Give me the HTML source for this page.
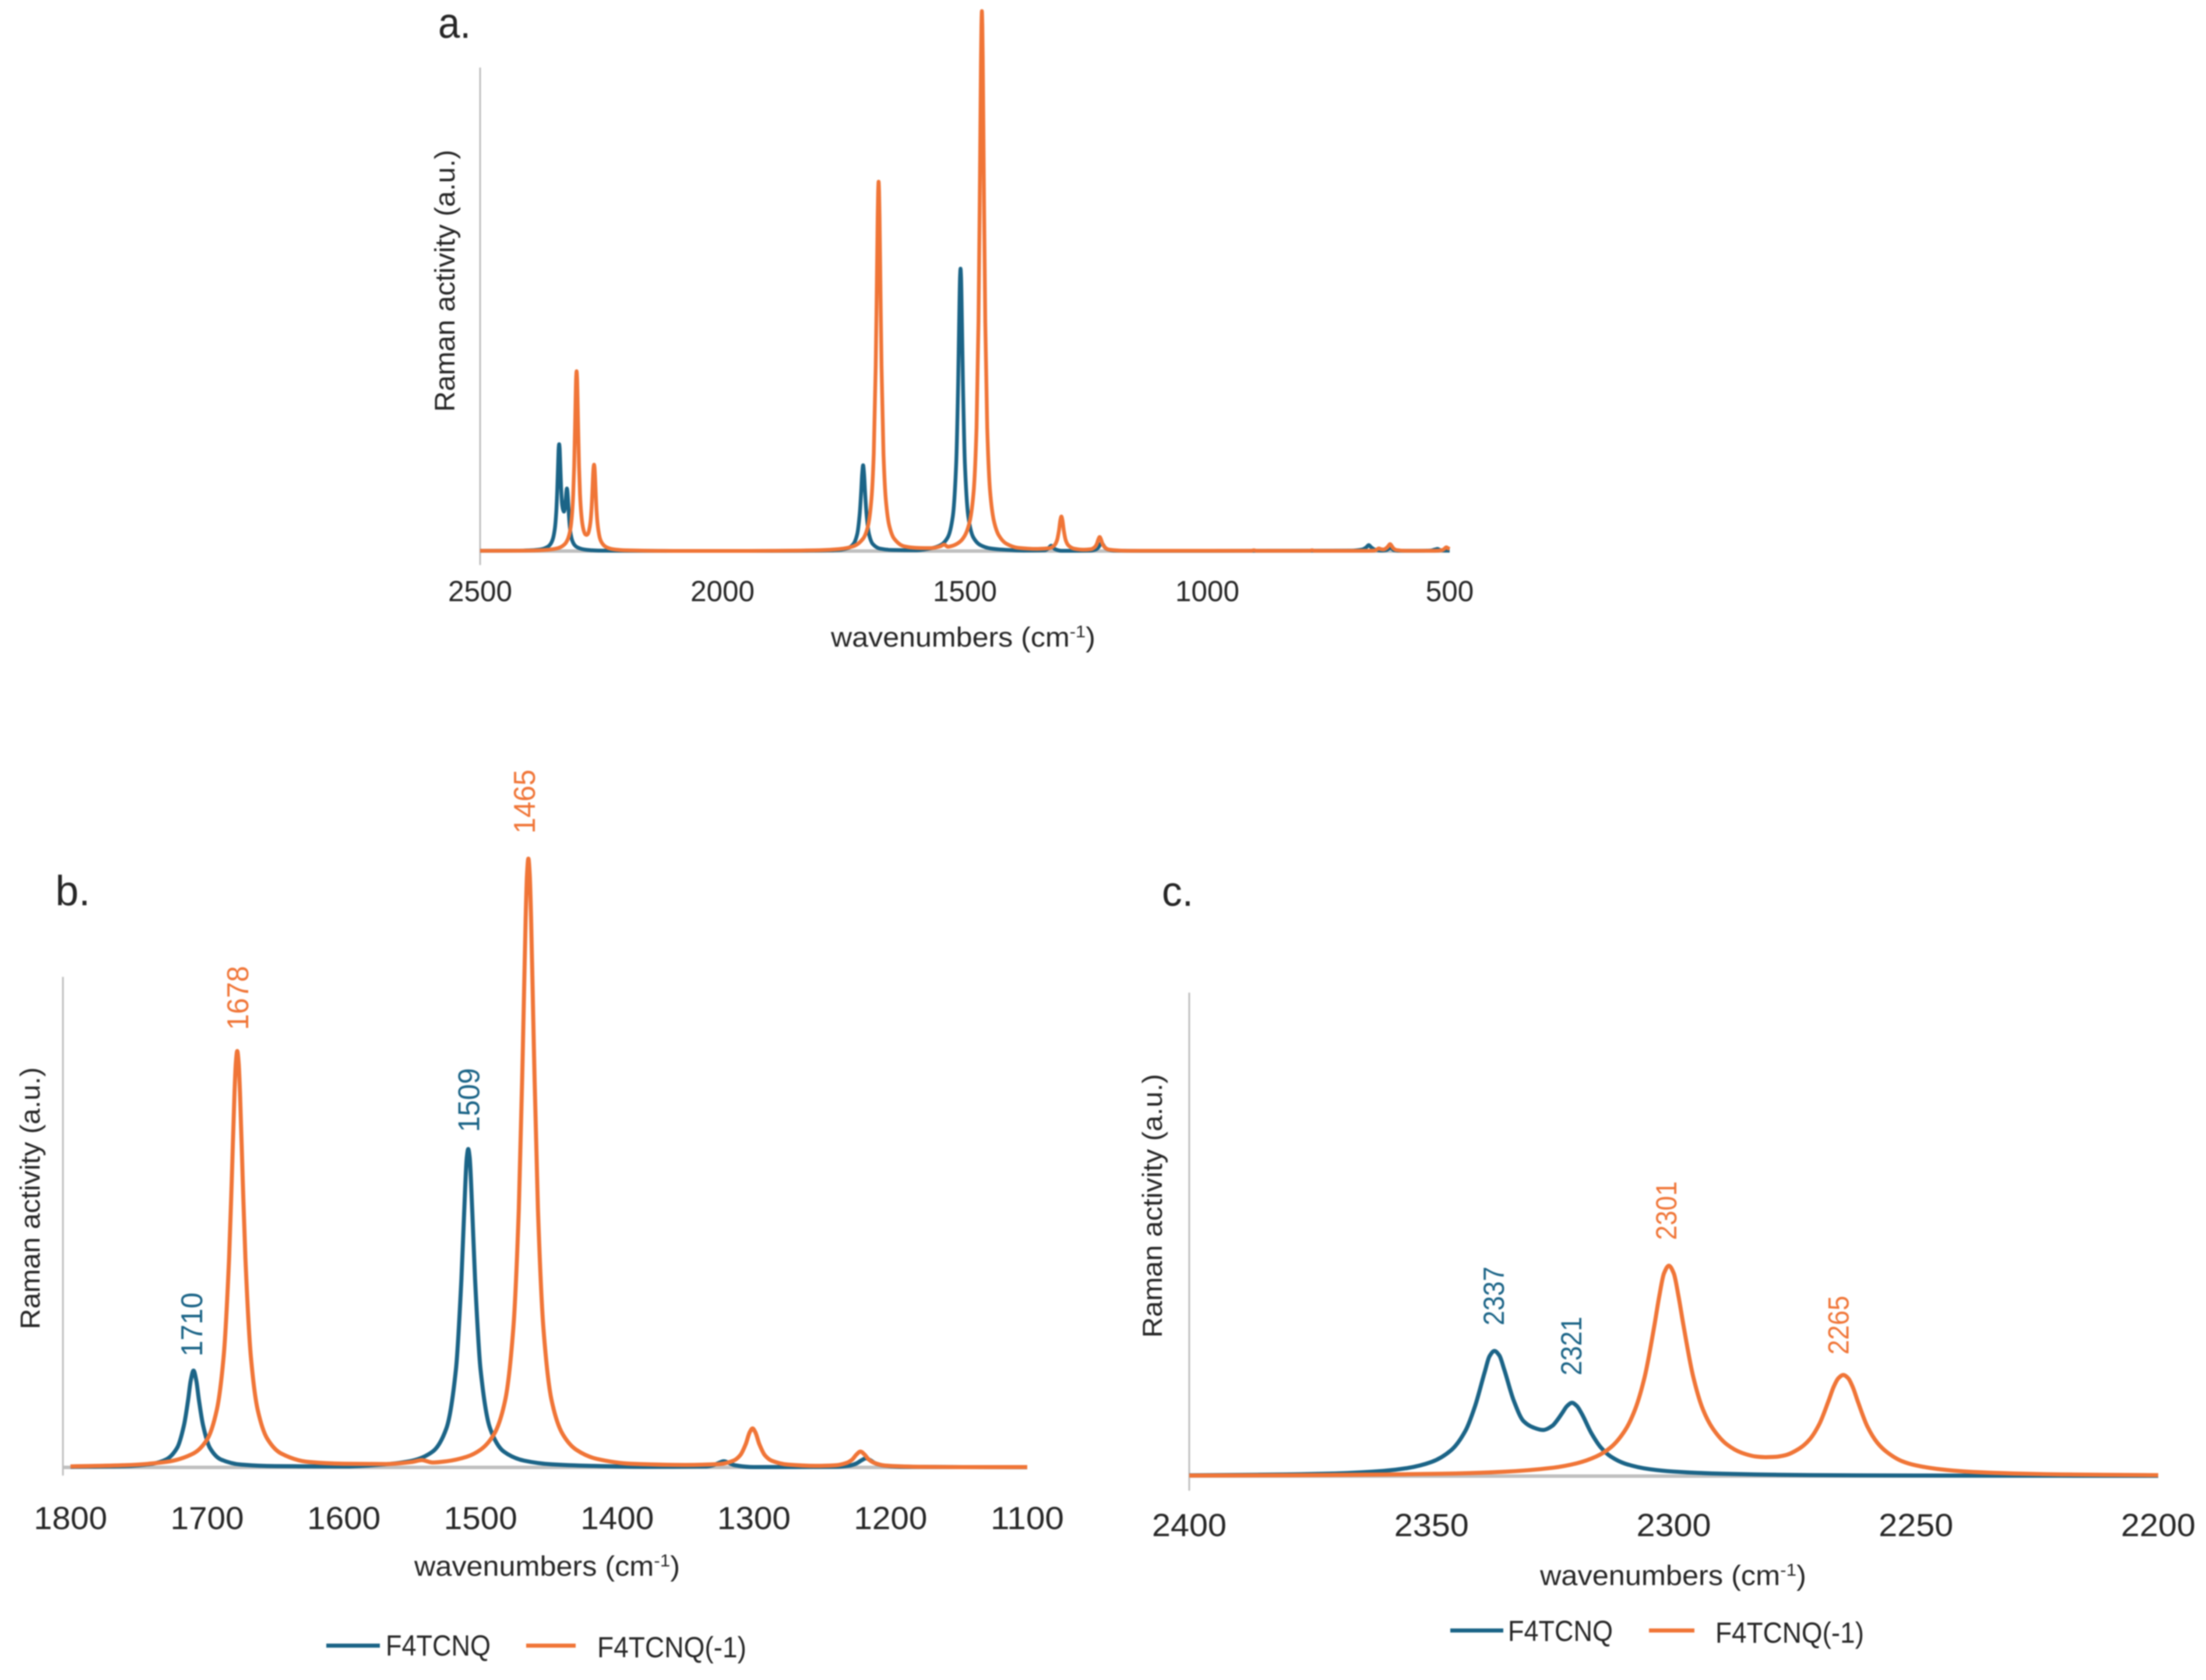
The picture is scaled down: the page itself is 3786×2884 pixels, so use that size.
<!DOCTYPE html>
<html lang="en">
<head>
<meta charset="utf-8">
<title>Raman spectra of F4TCNQ and F4TCNQ(-1)</title>
<style>
html,body{margin:0;padding:0;background:#fff;width:3786px;height:2884px;overflow:hidden}
svg{display:block;filter:blur(1px)}
text{font-family:"Liberation Sans",sans-serif;fill:#262626}
</style>
</head>
<body>
<svg id="figure" xmlns="http://www.w3.org/2000/svg" width="3786" height="2884" viewBox="0 0 3786 2884">
  <rect width="3786" height="2884" fill="#ffffff"/>

  <g id="panel-a">
    <text x="752" y="65" font-size="74" textLength="56" lengthAdjust="spacingAndGlyphs">a.</text>
    <text transform="translate(780,482) rotate(-90)" text-anchor="middle" font-size="48" textLength="450" lengthAdjust="spacingAndGlyphs">Raman activity (a.u.)</text>
    <text x="1426" y="1110" font-size="47" textLength="454" lengthAdjust="spacingAndGlyphs">wavenumbers (cm<tspan font-size="29" dy="-16">-1</tspan><tspan dy="16">)</tspan></text>
  </g>

  <g id="panel-b">
    <text x="95" y="1554" font-size="72" textLength="60" lengthAdjust="spacingAndGlyphs">b.</text>
    <text transform="translate(68,2057) rotate(-90)" text-anchor="middle" font-size="47" textLength="450" lengthAdjust="spacingAndGlyphs">Raman activity (a.u.)</text>
    <text x="711" y="2705" font-size="48" textLength="456" lengthAdjust="spacingAndGlyphs">wavenumbers (cm<tspan font-size="30" dy="-16">-1</tspan><tspan dy="16">)</tspan></text>
    <g>
      <line x1="560" y1="2825" x2="652" y2="2825" stroke="#1B6487" stroke-width="7"/>
      <text x="662" y="2842" font-size="50" textLength="180" lengthAdjust="spacingAndGlyphs">F4TCNQ</text>
      <line x1="903" y1="2825" x2="988" y2="2825" stroke="#F07537" stroke-width="7"/>
      <text x="1025" y="2845" font-size="50" textLength="256" lengthAdjust="spacingAndGlyphs">F4TCNQ(-1)</text>
    </g>
  </g>

  <g id="panel-c">
    <text x="1994" y="1555" font-size="72" textLength="54" lengthAdjust="spacingAndGlyphs">c.</text>
    <text transform="translate(1994,2070) rotate(-90)" text-anchor="middle" font-size="47" textLength="453" lengthAdjust="spacingAndGlyphs">Raman activity (a.u.)</text>
    <text x="2643" y="2721" font-size="48" textLength="457" lengthAdjust="spacingAndGlyphs">wavenumbers (cm<tspan font-size="30" dy="-16">-1</tspan><tspan dy="16">)</tspan></text>
    <g>
      <line x1="2489" y1="2799" x2="2580" y2="2799" stroke="#1B6487" stroke-width="7"/>
      <text x="2588" y="2817" font-size="50" textLength="180" lengthAdjust="spacingAndGlyphs">F4TCNQ</text>
      <line x1="2830" y1="2799" x2="2908" y2="2799" stroke="#F07537" stroke-width="7"/>
      <text x="2944" y="2820" font-size="50" textLength="255" lengthAdjust="spacingAndGlyphs">F4TCNQ(-1)</text>
    </g>
  </g>
</svg>

<script>
const blueWavenumbers = [
  2500,2420,2400,2380,2370,2360,2355,2350,2346,2343,
  2341,2339,2338,2337,2336,2335,2333,2331,2329,2327,
  2325,2324,2323,2322,2321,2320,2319,2317,2315,2313,2310,
  2305,2300,2290,2280,2260,2240,2200,2100,1900,1800,
  1760,1740,1730,1722,1717,1714,1712,1710,1708,1706,
  1703,1698,1690,1675,1650,1600,1570,1550,1535,1525,
  1518,1514,1512,1510,1509,1508,1506,1504,1500,1493,
  1483,1468,1448,1420,1380,1335,1330,1326,1322,1318,
  1314,1300,1240,1230,1225,1221,1218,1215,1211,1205,
  1190,1100,900,700,680,672,667,662,655,640,
  630,625,621,616,600,540,530,525,520,510,
  500
];
const blueActivity = [
  .05,.08,.13,.26,.42,.82,1.27,2.24,4.06,7.16,
  11.1,16.5,19,19.8,19.1,16.9,11.9,8.7,7.7,7.3,
  8,8.9,10,11.1,11.6,11.1,9.9,6.8,4.5,3.1,1.96,
  1.1,.72,.38,.23,.11,.08,.05,.03,.03,.1,
  .2,.6,1.3,3.2,6.9,11,14.3,15.9,14.3,11,
  6.9,3.2,1.3,.45,.2,.15,.5,1.1,2.6,6.4,
  16.1,30.9,41.8,51,52.3,51,41.8,30.9,16.1,6.4,
  2.6,1.1,.5,.25,.1,.15,.35,.7,1,.7,
  .35,.05,.1,.3,.65,1.2,1.5,1.2,.65,.3,
  .08,.02,.05,.1,.3,.7,1.1,.7,.3,.1,
  .2,.5,.6,.2,.05,.1,.3,.4,.2,.1,
  .1
];
const orangeWavenumbers = [
  2500,2420,2400,2380,2360,2345,2335,2325,2320,2316,
  2313,2310,2308,2306,2304,2303,2302,2301,2300,2299,
  2298,2296,2294,2292,2289,2286,2283,2281,2279,2277,
  2274,2272,2270,2268,2267,2266,2265,2264,2263,2262,
  2260,2258,2256,2253,2250,2245,2240,2230,2220,2200,
  2100,2000,1900,1800,1760,1730,1710,1700,1693,1688,
  1684,1682,1680,1679,1678,1677,1676,1674,1672,1668,
  1663,1656,1646,1626,1600,1570,1550,1543,1535,1525,
  1510,1500,1490,1482,1476,1472,1469,1467,1466,1465,
  1464,1463,1461,1458,1454,1448,1440,1430,1415,1390,
  1350,1325,1315,1310,1306,1303,1301,1299,1296,1292,
  1287,1275,1255,1240,1232,1228,1225,1222,1219,1216,
  1212,1204,1180,1150,1100,910,904,898,790,784,
  778,680,655,650,646,642,636,630,626,623,
  620,616,610,590,530,515,510,507,503,500
];
const orangeActivity = [
  .05,.07,.09,.14,.25,.42,.69,1.32,2.03,3.1,
  4.55,7.3,10.5,15.7,23.8,28.4,32.1,33.3,32.1,28.4,
  23.9,15.8,10.6,7.6,5,3.7,3.1,3,3.05,3.3,
  4.4,5.75,8.15,12,14.1,15.5,16,15.5,14,11.8,
  7.8,5.3,3.8,2.4,1.7,1.08,.74,.42,.27,.15,
  .03,.02,.05,.16,.36,.9,2.3,4.6,9.4,18.1,
  34.2,47.3,61.6,66.5,68.4,66.5,61.6,47.3,34.2,18.1,
  9.4,4.7,2.3,.9,.6,.55,.9,1.2,.8,1,
  1.75,2.9,5.5,11,22.9,42.4,69.2,90,97.3,100,
  97.3,90,69.2,42.4,22.9,11,5.5,2.9,1.4,.6,
  .4,.55,1.1,2,3.8,5.8,6.4,5.8,3.8,2,
  1.1,.45,.25,.35,.75,1.3,2.1,2.6,2.1,1.3,
  .75,.3,.1,.05,.05,.05,.15,.05,.05,.15,
  .05,.05,.1,.3,.5,.35,.3,.6,1,1.3,
  1,.5,.2,.05,.05,.2,.5,.7,.5,.4
];

const panelATicks = [2500,2000,1500,1000,500];
const panelBTicks = [1800,1700,1600,1500,1400,1300,1200,1100];
const panelCTicks = [2400,2350,2300,2250,2200];

const panelBBluePeaks = [1710,1509];
const panelBOrangePeaks = [1678,1465];
const panelCBluePeaks = [2337,2321];
const panelCOrangePeaks = [2301,2265];

const BLUE = '#1B6487';
const ORANGE = '#F07537';
const AXIS = '#BFBFBF';
const NS = 'http://www.w3.org/2000/svg';

function svgEl(tag, parent) {
  const el = document.createElementNS(NS, tag);
  parent.appendChild(el);
  return el;
}

function xScale(p, wn) {
  return p.xLeft + (p.wnLeft - wn) * (p.xRight - p.xLeft) / (p.wnLeft - p.wnRight);
}
function yScale(p, v) {
  return p.y0 - v * p.unit;
}

/* monotone cubic path through the points of a series */
function monotonePath(pts) {
  const n = pts.length;
  if (n < 2) return '';
  const dx = [], s = [], m = new Array(n);
  for (let i = 0; i < n - 1; i++) {
    dx[i] = pts[i + 1][0] - pts[i][0];
    s[i] = (pts[i + 1][1] - pts[i][1]) / dx[i];
  }
  m[0] = s[0];
  m[n - 1] = s[n - 2];
  for (let i = 1; i < n - 1; i++) {
    if (s[i - 1] * s[i] <= 0) {
      m[i] = 0;
    } else {
      const w1 = 2 * dx[i] + dx[i - 1];
      const w2 = dx[i] + 2 * dx[i - 1];
      m[i] = (w1 + w2) / (w1 / s[i - 1] + w2 / s[i]);
    }
  }
  let d = 'M' + pts[0][0].toFixed(2) + ' ' + pts[0][1].toFixed(2);
  for (let i = 0; i < n - 1; i++) {
    const h = dx[i] / 3;
    d += 'C' + (pts[i][0] + h).toFixed(2) + ' ' + (pts[i][1] + m[i] * h).toFixed(2) + ' ' +
         (pts[i + 1][0] - h).toFixed(2) + ' ' + (pts[i + 1][1] - m[i + 1] * h).toFixed(2) + ' ' +
         pts[i + 1][0].toFixed(2) + ' ' + pts[i + 1][1].toFixed(2);
  }
  return d;
}

function seriesPath(p, wns, vals) {
  const pts = [];
  for (let i = 0; i < wns.length; i++) {
    if (wns[i] <= p.wnLeft && wns[i] >= p.wnRight) {
      pts.push([xScale(p, wns[i]), yScale(p, vals[i])]);
    }
  }
  return monotonePath(pts);
}

function drawAxes(p, group, ticks) {
  const yAxis = svgEl('line', group);
  
  
  yAxis.setAttribute('x1', p.axisX);
  yAxis.setAttribute('x2', p.axisX);
  yAxis.setAttribute('y1', p.axisTop);
  yAxis.setAttribute('y2', p.axisBottom);
  yAxis.setAttribute('stroke', AXIS);
  yAxis.setAttribute('stroke-width', 3);

  const xAxis = svgEl('line', group);
  
  
  xAxis.setAttribute('x1', p.axisX);
  xAxis.setAttribute('x2', p.xRight);
  xAxis.setAttribute('y1', p.y0);
  xAxis.setAttribute('y2', p.y0);
  xAxis.setAttribute('stroke', AXIS);
  xAxis.setAttribute('stroke-width', 6);

  ticks.forEach(function (t) {
    const text = String(t);
    const label = svgEl('text', group);
    
    
    label.setAttribute('x', xScale(p, t));
    label.setAttribute('y', p.tickY);
    label.setAttribute('text-anchor', 'middle');
    label.setAttribute('font-size', p.tickFont);
    label.setAttribute('textLength', p.digitWidth * text.length);
    label.setAttribute('lengthAdjust', 'spacingAndGlyphs');
    label.textContent = text;
  });
}

function drawSeries(p, group) {
  const blue = svgEl('path', group);
  
  
  blue.setAttribute('d', seriesPath(p, blueWavenumbers, blueActivity));
  blue.setAttribute('fill', 'none');
  blue.setAttribute('stroke', BLUE);
  blue.setAttribute('stroke-width', p.stroke);
  blue.setAttribute('stroke-linejoin', 'round');

  const orange = svgEl('path', group);
  
  
  orange.setAttribute('d', seriesPath(p, orangeWavenumbers, orangeActivity));
  orange.setAttribute('fill', 'none');
  orange.setAttribute('stroke', ORANGE);
  orange.setAttribute('stroke-width', p.stroke);
  orange.setAttribute('stroke-linejoin', 'round');
}

function drawPeakLabel(p, group, wn, wns, vals, color, dx, gap, fontSize, len) {
  const v = vals[wns.indexOf(wn)];
  const x = xScale(p, wn) + dx;
  const y = yScale(p, v) - gap;
  const label = svgEl('text', group);
  
  
  label.setAttribute('transform', 'translate(' + x.toFixed(1) + ',' + y.toFixed(1) + ') rotate(-90)');
  label.setAttribute('font-size', fontSize);
  label.setAttribute('textLength', len);
  label.setAttribute('lengthAdjust', 'spacingAndGlyphs');
  label.setAttribute('style', 'fill:' + color);
  label.textContent = String(wn);
}

const panelA = {wnLeft:2500, wnRight:500, xLeft:824, xRight:2488, y0:946, unit:9.27,
  axisX:824, axisTop:116, axisBottom:970, tickY:1032, tickFont:50, digitWidth:27.5, stroke:6.5};
const panelB = {wnLeft:1800, wnRight:1100, xLeft:121, xRight:1763, y0:2519, unit:10.45,
  axisX:108, axisTop:1677, axisBottom:2533, tickY:2625, tickFont:55, digitWidth:31.5, stroke:7};
const panelC = {wnLeft:2400, wnRight:2200, xLeft:2041, xRight:3704, y0:2534, unit:10.85,
  axisX:2041, axisTop:1704, axisBottom:2559, tickY:2637, tickFont:55, digitWidth:32, stroke:7};

const groupA = document.getElementById('panel-a');
const groupB = document.getElementById('panel-b');
const groupC = document.getElementById('panel-c');

drawAxes(panelA, groupA, panelATicks);
drawSeries(panelA, groupA);

drawAxes(panelB, groupB, panelBTicks);
drawSeries(panelB, groupB);
const bBlueOffsets = [[15,24],[19,29]];
const bOrangeOffsets = [[19,36],[11,43]];
panelBBluePeaks.forEach(function (wn, i) {
  drawPeakLabel(panelB, groupB, wn, blueWavenumbers, blueActivity, BLUE, bBlueOffsets[i][0], bBlueOffsets[i][1], 52, 110);
});
panelBOrangePeaks.forEach(function (wn, i) {
  drawPeakLabel(panelB, groupB, wn, orangeWavenumbers, orangeActivity, ORANGE, bOrangeOffsets[i][0], bOrangeOffsets[i][1], 52, 110);
});

drawAxes(panelC, groupC, panelCTicks);
drawSeries(panelC, groupC);
const cBlueOffsets = [[16,44],[16,47]];
const cOrangeOffsets = [[13,44],[9,35]];
panelCBluePeaks.forEach(function (wn, i) {
  drawPeakLabel(panelC, groupC, wn, blueWavenumbers, blueActivity, BLUE, cBlueOffsets[i][0], cBlueOffsets[i][1], 50, 101);
});
panelCOrangePeaks.forEach(function (wn, i) {
  drawPeakLabel(panelC, groupC, wn, orangeWavenumbers, orangeActivity, ORANGE, cOrangeOffsets[i][0], cOrangeOffsets[i][1], 50, 101);
});
</script>
</body>
</html>
